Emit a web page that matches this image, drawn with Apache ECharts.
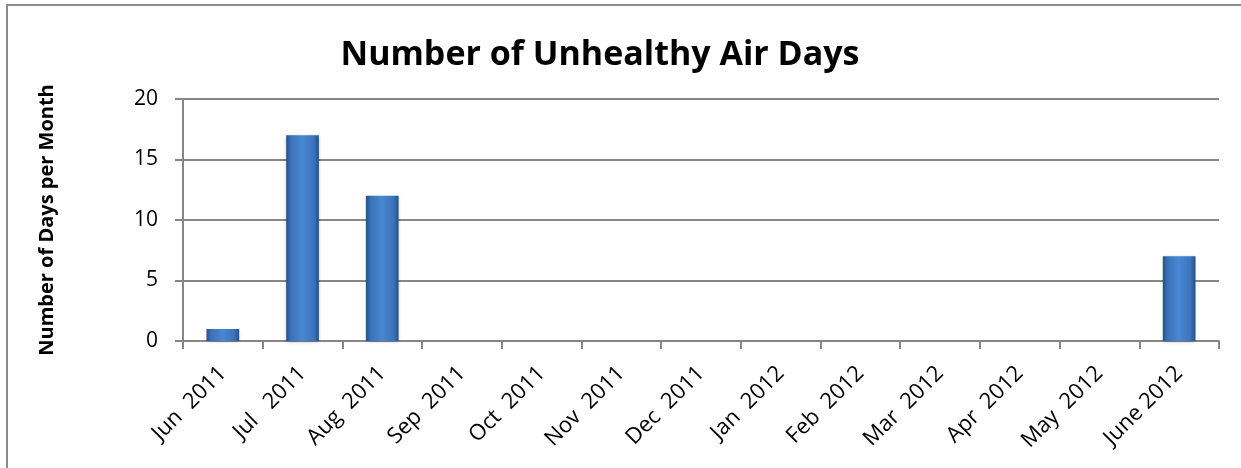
<!DOCTYPE html>
<html>
<head>
<meta charset="utf-8">
<script src="https://cdn.jsdelivr.net/npm/echarts@6/dist/echarts.min.js"></script>
<style>
  html, body { margin: 0; padding: 0; background: #fff; overflow: hidden; }
  #frame {
    position: absolute; left: 6px; top: 4px; width: 1260px; height: 480px;
    border: 2px solid #8c8c8c; box-sizing: border-box;
  }
  #airDaysChart { position: absolute; left: 0; top: 0; width: 1241px; height: 468px; }
</style>
</head>
<body>
<div id="frame"></div>
<div id="airDaysChart"></div>
<script>
// months on the x axis
const months = ['Jun  2011', 'Jul   2011', 'Aug  2011', 'Sep  2011', 'Oct  2011', 'Nov  2011', 'Dec  2011',
  'Jan  2012', 'Feb  2012', 'Mar  2012', 'Apr  2012', 'May  2012', 'June 2012']
// unhealthy air days per month
const unhealthyDays = [1, 17, 12, 0, 0, 0, 0, 0, 0, 0, 0, 0, 7]
const yTicks = [0, 5, 10, 15, 20]

const fontName = 'Open Sans'
const gridColor = '#868686'

let myChart = echarts.init(document.getElementById('airDaysChart'))
let option = {
  animation: false,
  title: {
    text: 'Number of Unhealthy Air Days',
    left: 595,
    textAlign: 'center',
    top: 33,
    textStyle: { fontFamily: fontName, fontWeight: 'bold', fontSize: 34, color: '#000' }
  },
  grid: { left: 183, right: 22, top: 99, bottom: 127 },
  xAxis: {
    type: 'category',
    data: months,
    axisLine: { lineStyle: { color: gridColor, width: 2 } },
    axisTick: { show: true, length: 8, lineStyle: { color: gridColor, width: 2 } },
    axisLabel: {
      rotate: 45, interval: 0, margin: 29,
      fontFamily: fontName, fontSize: 22, color: '#000'
    }
  },
  yAxis: {
    type: 'value',
    min: yTicks[0],
    max: yTicks[yTicks.length - 1],
    interval: 5,
    name: 'Number of Days per Month',
    nameLocation: 'middle',
    nameGap: 126,
    nameTextStyle: { fontFamily: fontName, fontWeight: 'bold', fontSize: 20, color: '#000' },
    axisLine: { show: true, lineStyle: { color: gridColor, width: 2 } },
    axisTick: { show: true, length: 8, lineStyle: { color: gridColor, width: 2 } },
    axisLabel: { margin: 25, fontFamily: fontName, fontSize: 21, color: '#000' },
    splitLine: { lineStyle: { color: gridColor, width: 2 } }
  },
  series: [
    {
      name: 'Unhealthy Air Days',
      type: 'bar',
      data: unhealthyDays,
      barWidth: '41%',
      itemStyle: {
        color: new echarts.graphic.LinearGradient(0, 0, 1, 0, [
          { offset: 0, color: '#24508a' },
          { offset: 0.15, color: '#3a73bb' },
          { offset: 0.5, color: '#4a87d2' },
          { offset: 0.85, color: '#3a73bb' },
          { offset: 1, color: '#24508a' }
        ]),
        shadowColor: 'rgba(0,0,0,0.25)',
        shadowBlur: 3,
        shadowOffsetY: 1
      }
    }
  ]
}
myChart.setOption(option, true)
</script>
</body>
</html>
